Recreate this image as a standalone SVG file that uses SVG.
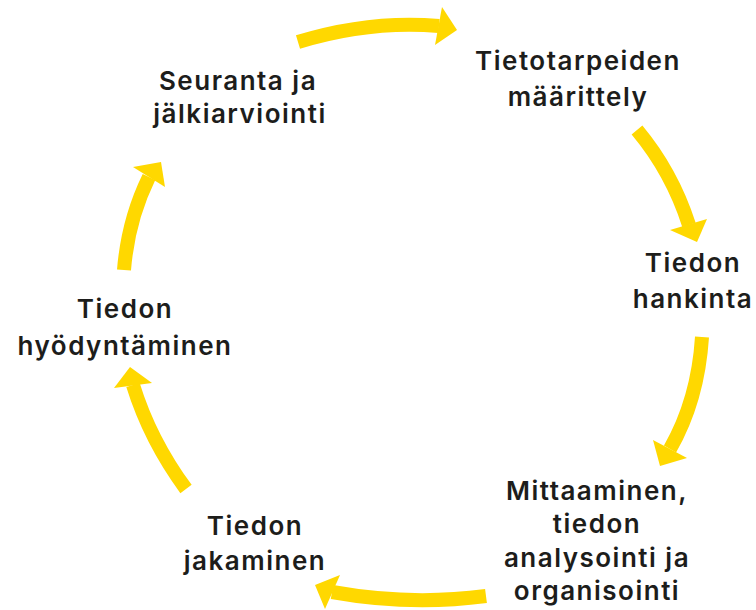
<svg xmlns="http://www.w3.org/2000/svg" width="756" height="610" viewBox="0 0 756 610">
<style>
.lbl{font-family:Inter,"Liberation Sans",sans-serif;font-weight:600;font-size:26px;letter-spacing:1.5px;fill:#1d1d1b;text-anchor:middle}
.arc{fill:none;stroke:#FFD800;stroke-width:14}
.head{fill:#FFD800}
</style>
<rect width="756" height="610" fill="#fff"/>
<g id="connectors">
<path class="arc" d="M298,42 Q370,20 439,26"/>
<polygon class="head" points="442,7 457,30 435,45"/>
<path class="arc" d="M637,130 Q672,172 689,225"/>
<polygon class="head" points="670,230 707,219 697,242"/>
<path class="arc" d="M702,337 Q698,400 670,449"/>
<polygon class="head" points="653,440 687,458 660,466"/>
<path class="arc" d="M486,596 Q410,606 332,592"/>
<polygon class="head" points="340,575 315,585 325,609"/>
<path class="arc" d="M186,489 Q150,440 133,385"/>
<polygon class="head" points="114,388 130,367 152,383"/>
<path class="arc" d="M124,270 Q128,220 149,177"/>
<polygon class="head" points="133,167 161,162 165,187"/>
</g>
<g id="n1"><text class="lbl" x="238" y="90">Seuranta ja</text><text class="lbl" x="240" y="123">jälkiarviointi</text></g>
<g id="n2"><text class="lbl" x="578" y="70">Tietotarpeiden</text><text class="lbl" x="578" y="106">määrittely</text></g>
<g id="n3"><text class="lbl" x="693" y="272">Tiedon</text><text class="lbl" x="693" y="308">hankinta</text></g>
<g id="n4"><text class="lbl" x="597" y="500">Mittaaminen,</text><text class="lbl" x="597" y="533">tiedon</text><text class="lbl" x="597" y="567">analysointi ja</text><text class="lbl" x="597" y="600">organisointi</text></g>
<g id="n5"><text class="lbl" x="255" y="535">Tiedon</text><text class="lbl" x="255" y="570">jakaminen</text></g>
<g id="n6"><text class="lbl" x="125" y="318">Tiedon</text><text class="lbl" x="125" y="355">hyödyntäminen</text></g>
</svg>
